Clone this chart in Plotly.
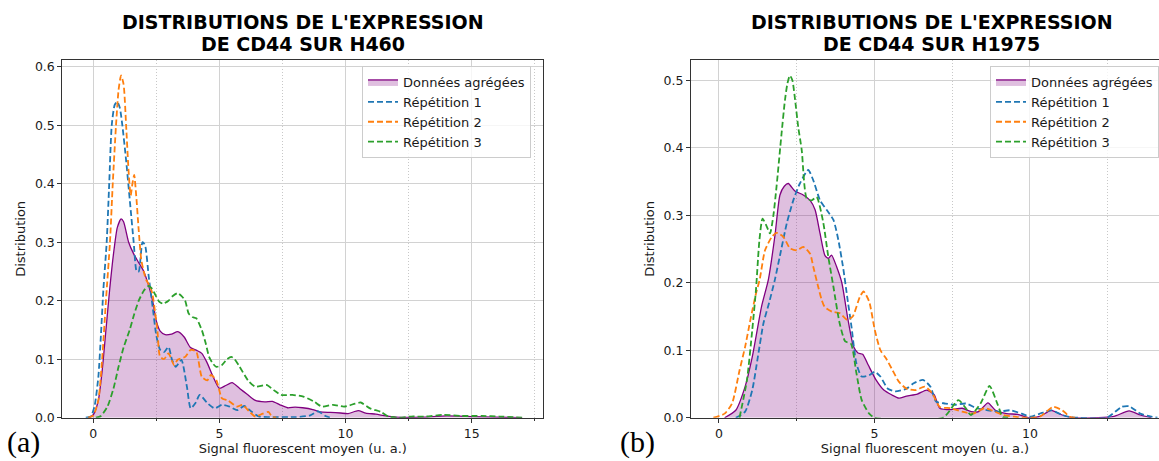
import plotly.graph_objects as go

# ---------------- H460 : kernel density estimates ----------------
h460_agg_x = [-0.2, 0.0, 0.2, 0.35, 0.5, 0.65, 0.8, 0.95, 1.1, 1.2, 1.4, 1.6, 1.8, 2.0, 2.2, 2.35,
              2.5, 2.65, 2.85, 3.1, 3.35, 3.6, 3.85, 4.1, 4.3, 4.5, 4.75, 5.0, 5.25, 5.5, 5.8, 6.1,
              6.4, 6.8, 7.1, 7.4, 7.7, 8.0, 8.3, 8.7, 9.0, 9.4, 9.8, 10.1, 10.5, 10.8, 11.2, 11.6,
              12.0, 13.0, 14.0, 15.0, 16.0, 17.0]
h460_agg_y = [0.0, 0.005, 0.03, 0.08, 0.15, 0.22, 0.28, 0.325, 0.34, 0.335, 0.3, 0.28, 0.265, 0.25, 0.225, 0.2,
              0.165, 0.148, 0.142, 0.143, 0.147, 0.138, 0.12, 0.115, 0.11, 0.095, 0.07, 0.05, 0.055, 0.06, 0.05, 0.04,
              0.03, 0.027, 0.028, 0.022, 0.017, 0.018, 0.017, 0.014, 0.01, 0.009, 0.008, 0.007, 0.012, 0.008, 0.006, 0.003,
              0.001, 0.001, 0.003, 0.002, 0.001, 0.0]

h460_r1_x = [-0.3, -0.1, 0.05, 0.2, 0.3, 0.4, 0.53, 0.63, 0.73, 0.85, 0.95, 1.05, 1.15, 1.3, 1.45, 1.6,
             1.72, 1.8, 1.95, 2.05, 2.2, 2.35, 2.5, 2.65, 2.8, 2.98, 3.12, 3.27, 3.49, 3.71, 3.86, 4.05,
             4.22, 4.52, 4.81, 5.1, 5.4, 5.7, 5.98, 6.28, 6.57, 7.0, 8.0, 8.6, 8.9, 9.2, 9.4]
h460_r1_y = [0.0, 0.002, 0.02, 0.07, 0.14, 0.22, 0.3, 0.4, 0.5, 0.535, 0.54, 0.53, 0.5, 0.44, 0.37, 0.3,
             0.25, 0.25, 0.3, 0.295, 0.24, 0.19, 0.14, 0.116, 0.112, 0.121, 0.099, 0.087, 0.099, 0.053, 0.016, 0.025,
             0.039, 0.025, 0.016, 0.022, 0.019, 0.013, 0.02, 0.01, 0.002, 0.001, 0.001, 0.004, 0.011, 0.003, 0.0]

h460_r2_x = [-0.2, 0.0, 0.2, 0.35, 0.5, 0.66, 0.77, 0.9, 1.0, 1.1, 1.2, 1.3, 1.4, 1.48, 1.55, 1.62,
             1.7, 1.8, 1.9, 2.0, 2.1, 2.25, 2.35, 2.45, 2.54, 2.64, 2.8, 2.98, 3.2, 3.34, 3.64, 3.86,
             4.08, 4.3, 4.52, 4.66, 4.88, 5.1, 5.32, 5.7, 5.9, 6.2, 6.42, 6.72, 6.94, 7.08, 7.25]
h460_r2_y = [0.0, 0.004, 0.03, 0.1, 0.2, 0.3, 0.4, 0.5, 0.56, 0.585, 0.57, 0.5, 0.42, 0.38, 0.4, 0.415,
             0.38, 0.32, 0.27, 0.25, 0.235, 0.225, 0.21, 0.18, 0.15, 0.105, 0.1, 0.11, 0.09, 0.099, 0.104, 0.116,
             0.113, 0.07, 0.064, 0.073, 0.064, 0.033, 0.03, 0.019, 0.022, 0.01, 0.002, 0.007, 0.01, 0.002, 0.0]

h460_r3_x = [0.1, 0.3, 0.56, 0.8, 1.0, 1.2, 1.44, 1.62, 1.8, 2.0, 2.17, 2.3, 2.46, 2.62, 2.76, 2.98,
             3.15, 3.34, 3.5, 3.64, 3.78, 3.93, 4.08, 4.3, 4.45, 4.59, 4.75, 4.88, 5.1, 5.3, 5.47, 5.6,
             5.76, 6.13, 6.42, 6.86, 7.16, 7.45, 7.89, 8.33, 8.77, 9.06, 9.5, 9.94, 10.38, 10.6, 10.97, 11.4,
             11.7, 12.1, 12.6, 13.2, 13.9, 14.6, 15.4, 16.1, 17.0]
h460_r3_y = [0.0, 0.003, 0.019, 0.05, 0.087, 0.12, 0.15, 0.177, 0.2, 0.217, 0.225, 0.222, 0.21, 0.198, 0.195, 0.2,
             0.208, 0.213, 0.208, 0.2, 0.178, 0.172, 0.17, 0.15, 0.128, 0.104, 0.092, 0.087, 0.09, 0.1, 0.104, 0.1,
             0.09, 0.064, 0.053, 0.056, 0.047, 0.039, 0.039, 0.036, 0.027, 0.019, 0.022, 0.019, 0.024, 0.026, 0.016, 0.01,
             0.002, 0.0, 0.002, 0.002, 0.005, 0.003, 0.003, 0.002, 0.0]

# ---------------- H1975 : kernel density estimates ----------------
h1975_agg_x = [0.18, 0.54, 0.84, 1.07, 1.37, 1.59, 1.8, 1.96, 2.1, 2.23, 2.44, 2.71, 2.93, 3.09, 3.25, 3.41,
               3.52, 3.62, 3.78, 3.95, 4.15, 4.33, 4.47, 4.62, 4.8, 5.05, 5.3, 5.55, 5.79, 6.03, 6.38, 6.68,
               6.92, 7.1, 7.46, 7.82, 8.11, 8.35, 8.65, 8.89, 9.25, 9.61, 9.96, 10.32, 10.68, 11.04, 11.4, 12.2,
               12.7, 13.19, 13.55, 13.9]
h1975_agg_y = [0.0, 0.011, 0.046, 0.09, 0.165, 0.205, 0.27, 0.33, 0.343, 0.347, 0.336, 0.33, 0.322, 0.308, 0.273, 0.24,
               0.236, 0.241, 0.224, 0.2, 0.145, 0.105, 0.096, 0.094, 0.078, 0.056, 0.041, 0.034, 0.029, 0.032, 0.035, 0.041,
               0.034, 0.014, 0.012, 0.014, 0.009, 0.009, 0.022, 0.011, 0.006, 0.005, 0.0, 0.002, 0.011, 0.004, 0.0, 0.0,
               0.002, 0.01, 0.004, 0.0]

h1975_r1_x = [0.54, 0.84, 1.07, 1.25, 1.43, 1.61, 1.8, 1.96, 2.18, 2.39, 2.6, 2.87, 3.03, 3.25, 3.46, 3.68,
              3.84, 4.0, 4.12, 4.26, 4.42, 4.59, 4.83, 5.01, 5.19, 5.43, 5.67, 6.03, 6.26, 6.56, 6.8, 6.98,
              7.28, 7.58, 7.94, 8.29, 8.65, 9.0, 9.37, 9.73, 10.02, 10.38, 10.68, 11.04, 11.28, 12.47, 12.95, 13.19,
              13.55, 13.9, 14.1]
h1975_r1_y = [0.0, 0.009, 0.041, 0.09, 0.14, 0.17, 0.205, 0.24, 0.288, 0.322, 0.347, 0.367, 0.352, 0.322, 0.308, 0.293,
              0.263, 0.22, 0.18, 0.135, 0.08, 0.061, 0.063, 0.068, 0.061, 0.043, 0.039, 0.043, 0.051, 0.056, 0.046, 0.024,
              0.021, 0.019, 0.021, 0.014, 0.011, 0.009, 0.011, 0.006, 0.0015, 0.007, 0.011, 0.004, 0.001, 0.0, 0.016, 0.017,
              0.006, 0.0015, 0.0]

h1975_r2_x = [-0.18, 0.18, 0.42, 0.66, 0.84, 1.01, 1.19, 1.31, 1.48, 1.7, 1.85, 2.07, 2.28, 2.5, 2.71, 2.93,
              3.03, 3.19, 3.3, 3.4, 3.64, 3.88, 4.12, 4.3, 4.53, 4.65, 4.83, 5.01, 5.19, 5.37, 5.55, 5.79,
              6.03, 6.32, 6.62, 6.86, 7.1, 7.46, 7.82, 8.17, 8.53, 8.77, 9.13, 9.49, 9.85, 10.32, 10.74, 11.04,
              11.28, 11.45]
h1975_r2_y = [0.0, 0.006, 0.021, 0.07, 0.105, 0.145, 0.184, 0.205, 0.248, 0.268, 0.274, 0.268, 0.251, 0.248, 0.253, 0.243,
              0.224, 0.194, 0.175, 0.164, 0.157, 0.155, 0.145, 0.15, 0.179, 0.187, 0.172, 0.13, 0.1, 0.088, 0.073, 0.053,
              0.043, 0.041, 0.046, 0.036, 0.016, 0.014, 0.009, 0.006, 0.014, 0.011, 0.004, 0.0015, 0.0, 0.0015, 0.016, 0.011,
              0.0015, 0.0]

h1975_r3_x = [0.66, 0.9, 1.07, 1.19, 1.3, 1.4, 1.52, 1.64, 1.75, 1.85, 2.01, 2.12, 2.2, 2.28, 2.36, 2.45,
              2.55, 2.66, 2.82, 2.98, 3.14, 3.35, 3.51, 3.68, 3.88, 4.06, 4.24, 4.42, 4.59, 4.83, 5.0, 7.2,
              7.7, 7.94, 8.1, 8.41, 8.7, 8.95, 9.13, 9.3]
h1975_r3_y = [0.0, 0.056, 0.13, 0.19, 0.263, 0.295, 0.285, 0.273, 0.3, 0.342, 0.42, 0.47, 0.495, 0.507, 0.5, 0.47,
              0.43, 0.397, 0.325, 0.322, 0.327, 0.29, 0.24, 0.194, 0.14, 0.113, 0.11, 0.066, 0.026, 0.006, 0.0, 0.0,
              0.026, 0.014, 0.004, 0.021, 0.047, 0.021, 0.001, 0.0]

series_names = ["Données agrégées", "Répétition 1", "Répétition 2", "Répétition 3"]
panel_titles = [["DISTRIBUTIONS DE L'EXPRESSION", "DE CD44 SUR H460"],
                ["DISTRIBUTIONS DE L'EXPRESSION", "DE CD44 SUR H1975"]]
panel_tags = ["(a)", "(b)"]
x_title = "Signal fluorescent moyen (u. a.)"
y_title = "Distribution"

W, H = 1159, 461
FONT = "DejaVu Sans"
TXT = "#1a1a1a"
AGG_LINE = "#800080"
AGG_FILL = "rgba(128,0,128,0.25)"
REP_COLORS = ["#1f77b4", "#ff7f0e", "#2ca02c"]
GRID = "#d2d2d2"

fig = go.Figure()

panels = [
    dict(agg=(h460_agg_x, h460_agg_y),
         reps=[(h460_r1_x, h460_r1_y), (h460_r2_x, h460_r2_y), (h460_r3_x, h460_r3_y)],
         xa="x", ya="y", legend="legend"),
    dict(agg=(h1975_agg_x, h1975_agg_y),
         reps=[(h1975_r1_x, h1975_r1_y), (h1975_r2_x, h1975_r2_y), (h1975_r3_x, h1975_r3_y)],
         xa="x2", ya="y2", legend="legend2"),
]

for p in panels:
    ax, ay = p["agg"]
    fig.add_trace(go.Scatter(
        x=ax, y=ay, name=series_names[0], mode="lines", fill="tozeroy",
        fillcolor=AGG_FILL, line=dict(color=AGG_LINE, width=1.3, shape="spline", smoothing=0.6),
        xaxis=p["xa"], yaxis=p["ya"], legend=p["legend"]))
    for (rx, ry), name, col in zip(p["reps"], series_names[1:], REP_COLORS):
        fig.add_trace(go.Scatter(
            x=rx, y=ry, name=name, mode="lines",
            line=dict(color=col, width=1.8, dash="6px,3px", shape="spline", smoothing=0.6),
            xaxis=p["xa"], yaxis=p["ya"], legend=p["legend"]))

y_dom = [(H - 417.7) / H, (H - 60) / H]


def xaxis_cfg(domain, rng, anchor, mirror):
    return dict(
        domain=domain, range=rng, anchor=anchor, automargin=False,
        tickvals=[0, 5, 10, 15], ticktext=["0", "5", "10", "15"],
        showgrid=True, gridcolor=GRID, gridwidth=1, zeroline=False,
        showline=True, linecolor="#333333", linewidth=1, mirror=mirror,
        ticks="outside", ticklen=4, tickwidth=1, tickcolor="#333333",
        tickfont=dict(family=FONT, size=12.5, color=TXT),
        minor=dict(dtick=2.5, tick0=0, ticks="outside", ticklen=2.5, tickcolor="#333333",
                   showgrid=True, gridcolor="#c8c8c8", griddash="1px,2px", gridwidth=0.8),
        title=dict(text=x_title, font=dict(family=FONT, size=13, color=TXT), standoff=4),
    )


def yaxis_cfg(anchor, rng, top, mirror):
    return dict(
        domain=y_dom, range=rng, anchor=anchor, automargin=False,
        tickvals=[round(0.1 * i, 1) for i in range(top + 1)],
        tickformat=".1f", showgrid=True, gridcolor=GRID, gridwidth=1, zeroline=False,
        showline=True, linecolor="#333333", linewidth=1, mirror=mirror,
        ticks="outside", ticklen=4, tickwidth=1, tickcolor="#333333",
        tickfont=dict(family=FONT, size=12.5, color=TXT),
        title=dict(text=y_title, font=dict(family=FONT, size=13, color=TXT), standoff=6),
    )


legend_common = dict(
    xanchor="left", yanchor="top", bgcolor="rgba(255,255,255,0.8)",
    bordercolor="#cccccc", borderwidth=1, font=dict(family=FONT, size=13, color=TXT),
    tracegroupgap=0, itemwidth=30,
)

fig.update_layout(
    width=W, height=H, autosize=False,
    margin=dict(l=0, r=0, t=0, b=0, autoexpand=False),
    paper_bgcolor="white", plot_bgcolor="white",
    font=dict(family=FONT, color=TXT),
    xaxis=xaxis_cfg([62.3 / W, 543.3 / W], [-1.23, 17.84], "y", True),
    yaxis=yaxis_cfg("x", [0, 0.6115], 6, True),
    xaxis2=xaxis_cfg([691 / W, 1.0], [-0.9, 14.15], "y2", True),
    yaxis2=yaxis_cfg("x2", [0, 0.53], 5, False),
    legend=dict(x=362 / W, y=(H - 66) / H, **legend_common),
    legend2=dict(x=990 / W, y=(H - 66) / H, **legend_common),
    showlegend=True,
)

# two-line bold titles above each panel
for cx, lines in zip([302.8 / W, 931.5 / W], panel_titles):
    for yc, line in zip([22, 44], lines):
        fig.add_annotation(
            text=f"<b>{line}</b>", x=cx, y=(H - yc) / H, xref="paper", yref="paper",
            xanchor="center", yanchor="middle", showarrow=False,
            font=dict(family=FONT, size=19, color="black"))

# panel tags in the bottom-left corners
for lx, tag in zip([5 / W, 618 / W], panel_tags):
    fig.add_annotation(
        text=tag, x=lx, y=0.0, xref="paper", yref="paper",
        xanchor="left", yanchor="bottom", showarrow=False,
        font=dict(family="Liberation Serif", size=30, color="black"))

fig.write_html("out.html")
